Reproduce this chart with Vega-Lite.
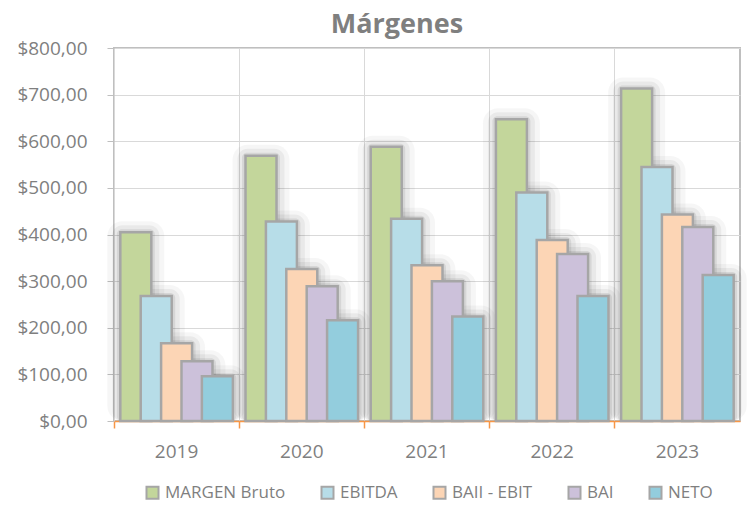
{
  "$schema": "https://vega.github.io/schema/vega-lite/v6.json",
  "autosize": "none",
  "width": 626,
  "height": 373,
  "padding": {"left": 114, "top": 48, "right": 8, "bottom": 84},
  "background": "white",
  "title": {
    "text": "Márgenes",
    "font": "Open Sans",
    "fontSize": 27,
    "fontWeight": "bold",
    "color": "#7f7f7f",
    "anchor": "middle",
    "frame": "group",
    "dx": -30,
    "offset": 0
  },
  "data": {
    "values": [
      {"year": "2019", "serie": "MARGEN Bruto", "valor": 405},
      {"year": "2019", "serie": "EBITDA", "valor": 268},
      {"year": "2019", "serie": "BAII - EBIT", "valor": 167},
      {"year": "2019", "serie": "BAI", "valor": 128},
      {"year": "2019", "serie": "NETO", "valor": 96},
      {"year": "2020", "serie": "MARGEN Bruto", "valor": 569},
      {"year": "2020", "serie": "EBITDA", "valor": 428},
      {"year": "2020", "serie": "BAII - EBIT", "valor": 326},
      {"year": "2020", "serie": "BAI", "valor": 289},
      {"year": "2020", "serie": "NETO", "valor": 216},
      {"year": "2021", "serie": "MARGEN Bruto", "valor": 588},
      {"year": "2021", "serie": "EBITDA", "valor": 434},
      {"year": "2021", "serie": "BAII - EBIT", "valor": 334},
      {"year": "2021", "serie": "BAI", "valor": 300},
      {"year": "2021", "serie": "NETO", "valor": 224},
      {"year": "2022", "serie": "MARGEN Bruto", "valor": 647},
      {"year": "2022", "serie": "EBITDA", "valor": 490},
      {"year": "2022", "serie": "BAII - EBIT", "valor": 388},
      {"year": "2022", "serie": "BAI", "valor": 358},
      {"year": "2022", "serie": "NETO", "valor": 268},
      {"year": "2023", "serie": "MARGEN Bruto", "valor": 713},
      {"year": "2023", "serie": "EBITDA", "valor": 545},
      {"year": "2023", "serie": "BAII - EBIT", "valor": 443},
      {"year": "2023", "serie": "BAI", "valor": 416},
      {"year": "2023", "serie": "NETO", "valor": 313}
    ]
  },
  "encoding": {
    "x": {
      "field": "year",
      "type": "nominal",
      "scale": {"paddingInner": 0, "paddingOuter": 0},
      "axis": {
        "title": null,
        "labelAngle": 0,
        "bandPosition": 0,
        "grid": true,
        "gridColor": "#d9d9d9",
        "domainColor": "#f79646",
        "domainWidth": 1.5,
        "tickColor": "#f79646",
        "tickWidth": 1.5,
        "tickSize": 7,
        "labelFont": "Open Sans",
        "labelFontSize": 19,
        "labelColor": "#7f7f7f",
        "labelPadding": 14
      }
    },
    "xOffset": {
      "field": "serie",
      "type": "nominal",
      "sort": ["MARGEN Bruto", "EBITDA", "BAII - EBIT", "BAI", "NETO"],
      "scale": {"paddingInner": 0, "paddingOuter": 0.57}
    },
    "y": {
      "field": "valor",
      "type": "quantitative",
      "stack": null,
      "scale": {"domain": [0, 800], "nice": false},
      "axis": {
        "title": null,
        "values": [0, 100, 200, 300, 400, 500, 600, 700, 800],
        "labelExpr": "'$' + replace(format(datum.value, '.2f'), '.', ',')",
        "domain": false,
        "grid": true,
        "gridColor": "#d9d9d9",
        "tickColor": "#bfbfbf",
        "tickSize": 7,
        "labelFont": "Open Sans",
        "labelFontSize": 19,
        "labelColor": "#7f7f7f",
        "labelPadding": 20
      }
    }
  },
  "layer": [
    {
      "mark": {"type": "bar", "width": 57, "xOffset": 6, "yOffset": -11, "color": "#000000", "opacity": 0.035, "cornerRadius": 15}
    },
    {
      "mark": {"type": "bar", "width": 47, "xOffset": 5, "yOffset": -7, "color": "#000000", "opacity": 0.05, "cornerRadius": 10}
    },
    {
      "mark": {"type": "bar", "width": 38, "xOffset": 4, "yOffset": -3, "color": "#000000", "opacity": 0.08, "cornerRadius": 5}
    },
    {
      "mark": {"type": "bar", "width": 31, "stroke": "#a6a6a6", "strokeWidth": 2.5},
      "encoding": {
        "color": {
          "field": "serie",
          "type": "nominal",
          "sort": ["MARGEN Bruto", "EBITDA", "BAII - EBIT", "BAI", "NETO"],
          "scale": {
            "domain": ["MARGEN Bruto", "EBITDA", "BAII - EBIT", "BAI", "NETO"],
            "range": ["#c3d69b", "#b7dde8", "#fcd5b5", "#ccc1da", "#93cddd"]
          },
          "legend": {
            "title": null,
            "orient": "none",
            "direction": "horizontal",
            "legendX": 30,
            "legendY": 436,
            "symbolType": "square",
            "symbolSize": 144,
            "symbolStrokeColor": "#a6a6a6",
            "symbolStrokeWidth": 2,
            "symbolOpacity": 1,
            "labelFont": "Open Sans",
            "labelFontSize": 17,
            "labelColor": "#7f7f7f",
            "labelOffset": 4,
            "columnPadding": 31
          }
        }
      }
    }
  ],
  "config": {
    "view": {"stroke": "#bfbfbf", "strokeWidth": 2}
  }
}
